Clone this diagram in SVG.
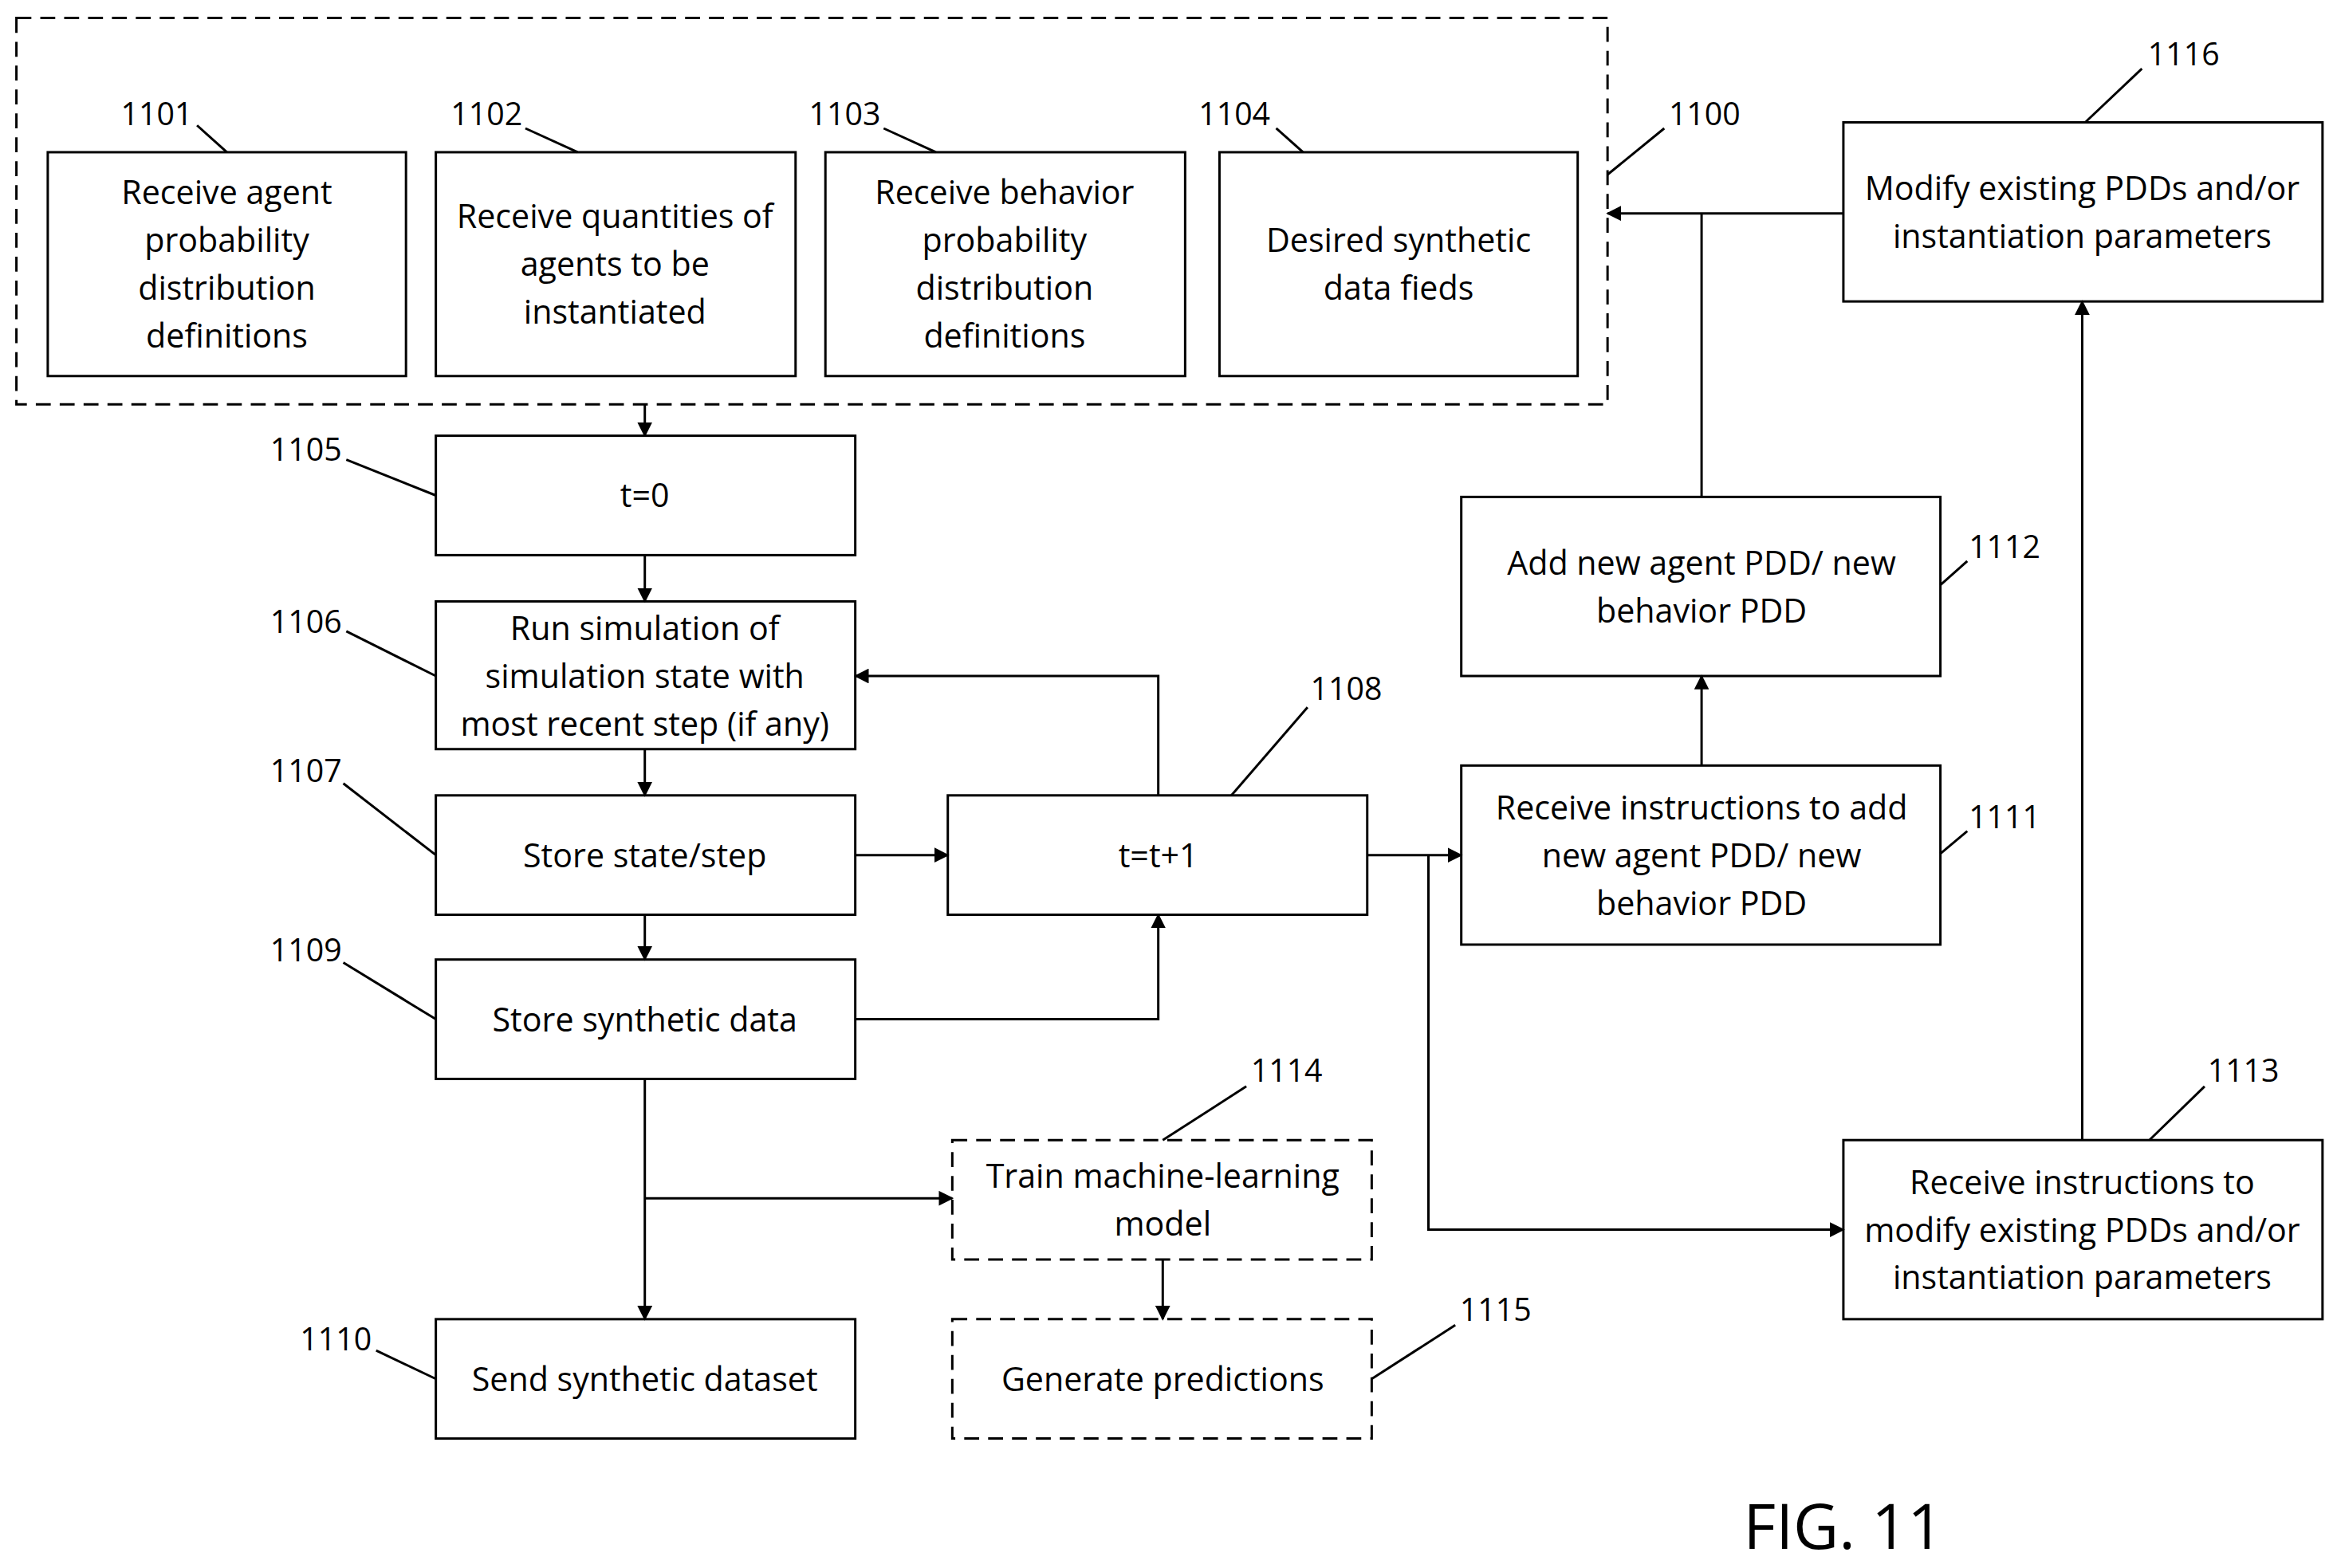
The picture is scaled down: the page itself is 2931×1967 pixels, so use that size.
<svg xmlns="http://www.w3.org/2000/svg" width="2931" height="1967" viewBox="0 0 2931 1967">
<defs>
<style>
.b{fill:#fff;stroke:#000;stroke-width:1.6}
.d{fill:none;stroke:#000;stroke-width:1.6;stroke-dasharray:10,6}
.t{font-family:"Open Sans","Liberation Sans",sans-serif;font-size:22px;text-anchor:middle;fill:#000}
.l{font-family:"Open Sans","Liberation Sans",sans-serif;font-size:21px;text-anchor:middle;fill:#000}
.c{fill:none;stroke:#000;stroke-width:1.6}
</style>
<marker id="a" markerWidth="10" markerHeight="10" refX="9" refY="5" orient="auto" markerUnits="userSpaceOnUse"><path d="M0,0 L10,5 L0,10 z" fill="#000"/></marker>
</defs>
<rect width="2931" height="1967" fill="#fff"/>
<g transform="scale(1.872)">
<rect class="d" x="11" y="12" width="1066" height="259"/>
<g id="n1101"><rect class="b" x="32" y="102" width="240" height="150"/><text class="t"><tspan x="152" y="137">Receive agent</tspan><tspan x="152" y="169">probability</tspan><tspan x="152" y="201">distribution</tspan><tspan x="152" y="233">definitions</tspan></text></g>
<g id="n1102"><rect class="b" x="292" y="102" width="241" height="150"/><text class="t"><tspan x="412" y="153">Receive quantities of</tspan><tspan x="412" y="185">agents to be</tspan><tspan x="412" y="217">instantiated</tspan></text></g>
<g id="n1103"><rect class="b" x="553" y="102" width="241" height="150"/><text class="t"><tspan x="673" y="137">Receive behavior</tspan><tspan x="673" y="169">probability</tspan><tspan x="673" y="201">distribution</tspan><tspan x="673" y="233">definitions</tspan></text></g>
<g id="n1104"><rect class="b" x="817" y="102" width="240" height="150"/><text class="t"><tspan x="937" y="169">Desired synthetic</tspan><tspan x="937" y="201">data fieds</tspan></text></g>
<g id="n1105"><rect class="b" x="292" y="292" width="281" height="80"/><text class="t" x="432" y="340">t=0</text></g>
<g id="n1106"><rect class="b" x="292" y="403" width="281" height="99"/><text class="t"><tspan x="432" y="429">Run simulation of</tspan><tspan x="432" y="461">simulation state with</tspan><tspan x="432" y="493">most recent step (if any)</tspan></text></g>
<g id="n1107"><rect class="b" x="292" y="533" width="281" height="80"/><text class="t" x="432" y="581">Store state/step</text></g>
<g id="n1109"><rect class="b" x="292" y="643" width="281" height="80"/><text class="t" x="432" y="691">Store synthetic data</text></g>
<g id="n1110"><rect class="b" x="292" y="884" width="281" height="80"/><text class="t" x="432" y="932">Send synthetic dataset</text></g>
<g id="n1108"><rect class="b" x="635" y="533" width="281" height="80"/><text class="t" x="776" y="581">t=t+1</text></g>
<g id="n1114"><rect class="d" x="638" y="764" width="281" height="80"/><text class="t"><tspan x="779" y="796">Train machine-learning</tspan><tspan x="779" y="828">model</tspan></text></g>
<g id="n1115"><rect class="d" x="638" y="884" width="281" height="80"/><text class="t" x="779" y="932">Generate predictions</text></g>
<g id="n1111"><rect class="b" x="979" y="513" width="321" height="120"/><text class="t"><tspan x="1140" y="549">Receive instructions to add</tspan><tspan x="1140" y="581">new agent PDD/ new</tspan><tspan x="1140" y="613">behavior PDD</tspan></text></g>
<g id="n1112"><rect class="b" x="979" y="333" width="321" height="120"/><text class="t"><tspan x="1140" y="385">Add new agent PDD/ new</tspan><tspan x="1140" y="417">behavior PDD</tspan></text></g>
<g id="n1113"><rect class="b" x="1235" y="764" width="321" height="120"/><text class="t"><tspan x="1395" y="800">Receive instructions to</tspan><tspan x="1395" y="832">modify existing PDDs and/or</tspan><tspan x="1395" y="864">instantiation parameters</tspan></text></g>
<g id="n1116"><rect class="b" x="1235" y="82" width="321" height="120"/><text class="t"><tspan x="1395" y="134">Modify existing PDDs and/or</tspan><tspan x="1395" y="166">instantiation parameters</tspan></text></g>
<g id="connectors">
<path class="c" marker-end="url(#a)" d="M432,271V292"/>
<path class="c" marker-end="url(#a)" d="M432,372V403"/>
<path class="c" marker-end="url(#a)" d="M432,502V533"/>
<path class="c" marker-end="url(#a)" d="M432,613V643"/>
<path class="c" marker-end="url(#a)" d="M573,573H635"/>
<path class="c" marker-end="url(#a)" d="M573,683H776V613"/>
<path class="c" marker-end="url(#a)" d="M776,533V453H573"/>
<path class="c" marker-end="url(#a)" d="M432,723V884"/>
<path class="c" marker-end="url(#a)" d="M432,803H638"/>
<path class="c" marker-end="url(#a)" d="M779,844V884"/>
<path class="c" marker-end="url(#a)" d="M916,573H979"/>
<path class="c" marker-end="url(#a)" d="M957,573V824H1235"/>
<path class="c" marker-end="url(#a)" d="M1140,513V453"/>
<path class="c" d="M1140,333V143"/>
<path class="c" marker-end="url(#a)" d="M1235,143H1077"/>
<path class="c" marker-end="url(#a)" d="M1395,764V202"/>
</g>
<g id="labels">
<text class="l" x="105" y="84">1101</text><path class="c" d="M132,84L152,102"/>
<text class="l" x="326" y="84">1102</text><path class="c" d="M352,86L387,102"/>
<text class="l" x="566" y="84">1103</text><path class="c" d="M592,86L627,102"/>
<text class="l" x="827" y="84">1104</text><path class="c" d="M855,86L873,102"/>
<text class="l" x="1142" y="84">1100</text><path class="c" d="M1115,86L1077,117"/>
<text class="l" x="1463" y="44">1116</text><path class="c" d="M1435,46L1397,82"/>
<text class="l" x="205" y="309">1105</text><path class="c" d="M232,308L292,332"/>
<text class="l" x="205" y="424">1106</text><path class="c" d="M232,423L292,453"/>
<text class="l" x="205" y="524">1107</text><path class="c" d="M230,525L292,573"/>
<text class="l" x="205" y="644">1109</text><path class="c" d="M230,645L292,683"/>
<text class="l" x="225" y="905">1110</text><path class="c" d="M252,905L292,924"/>
<text class="l" x="902" y="469">1108</text><path class="c" d="M876,474L825,533"/>
<text class="l" x="1343" y="374">1112</text><path class="c" d="M1318,376L1300,392"/>
<text class="l" x="1343" y="555">1111</text><path class="c" d="M1318,557L1300,572"/>
<text class="l" x="862" y="725">1114</text><path class="c" d="M835,728L779,764"/>
<text class="l" x="1503" y="725">1113</text><path class="c" d="M1477,728L1440,764"/>
<text class="l" x="1002" y="885">1115</text><path class="c" d="M975,888L919,924"/>
</g>
<text x="1235" y="1038" style="font-family:'Open Sans','Liberation Sans',sans-serif;font-size:42px;text-anchor:middle">FIG. 11</text>
</g>
</svg>
